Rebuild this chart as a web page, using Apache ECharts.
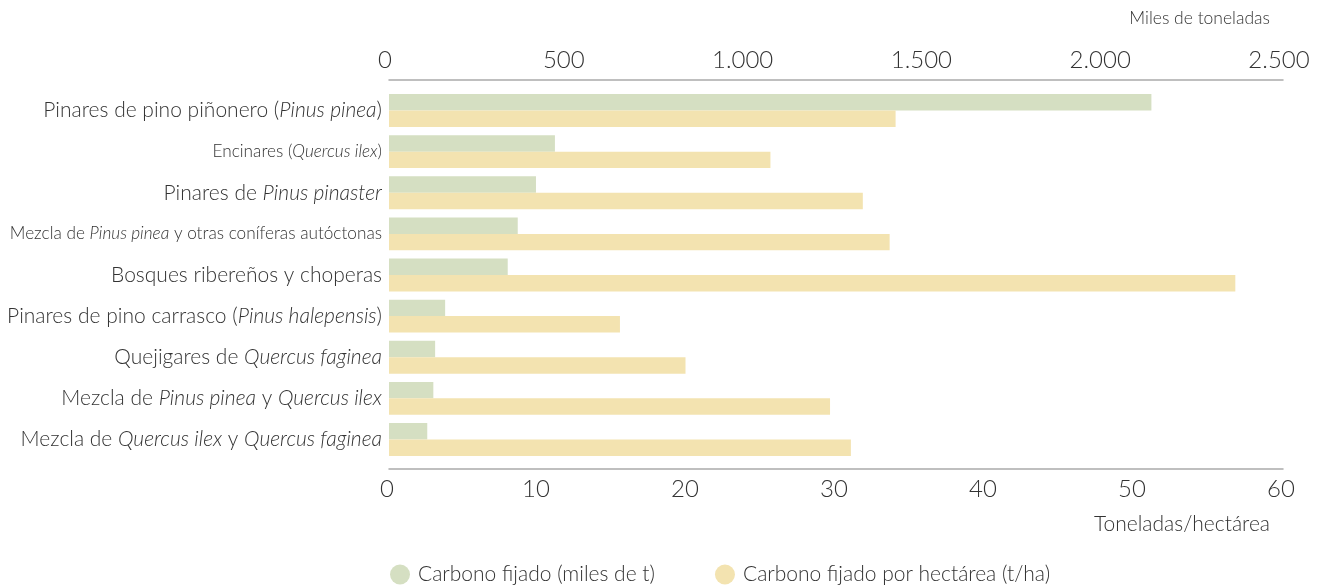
<!DOCTYPE html>
<html>
<head>
<meta charset="utf-8">
<script src="https://cdn.jsdelivr.net/npm/echarts@6/dist/echarts.min.js"></script>
<style>
html,body{margin:0;padding:0;background:#fff;}
#c{width:1320px;height:585px;}
</style>
</head>
<body>
<div id="c"></div>
<script>
const categories = [
  'Pinares de pino piñonero (Pinus pinea)',
  'Encinares (Quercus ilex)',
  'Pinares de Pinus pinaster',
  'Mezcla de Pinus pinea y otras coníferas autóctonas',
  'Bosques ribereños y choperas',
  'Pinares de pino carrasco (Pinus halepensis)',
  'Quejigares de Quercus faginea',
  'Mezcla de Pinus pinea y Quercus ilex',
  'Mezcla de Quercus ilex y Quercus faginea'
];
const categoryLabels = [
  'Pinares de pino piñonero ({i|Pinus pinea})',
  '{c|Encinares (}{ci|Quercus ilex}{c|)}',
  'Pinares de {i|Pinus pinaster}',
  '{c|Mezcla de }{ci|Pinus pinea}{c| y otras coníferas autóctonas}',
  'Bosques ribereños y choperas',
  'Pinares de pino carrasco ({i|Pinus halepensis})',
  'Quejigares de {i|Quercus faginea}',
  'Mezcla de {i|Pinus pinea} y {i|Quercus ilex}',
  'Mezcla de {i|Quercus ilex} y {i|Quercus faginea}'
];
const carbonoMiles = [2132, 464, 411, 360, 332, 157, 129, 124, 107];
const carbonoHa = [34.0, 25.6, 31.8, 33.6, 56.8, 15.5, 19.9, 29.6, 31.0];
const topTicks = [0, 500, 1000, 1500, 2000, 2500];
const bottomTicks = [0, 10, 20, 30, 40, 50, 60];
const seriesNames = ['Carbono fijado (miles de t)', 'Carbono fijado por hectárea (t/ha)'];

const FONT = 'Lato, "Noto Sans", sans-serif';
const TXT = '#333';
const chart = echarts.init(document.getElementById('c'), null, {renderer: 'canvas'});
const fmtThousands = v => String(v).replace(/\B(?=(\d{3})+(?!\d))/g, '.');

chart.setOption({
  animation: false,
  backgroundColor: '#fff',
  grid: {left: 389, right: 37, top: 90, bottom: 125, containLabel: false},
  xAxis: [
    {
      type: 'value', position: 'top', offset: 10,
      min: topTicks[0], max: topTicks[topTicks.length - 1], interval: 500,
      axisLine: {show: true, lineStyle: {color: '#aaa', width: 1.5}},
      axisTick: {show: false}, splitLine: {show: false},
      axisLabel: {fontFamily: FONT, fontSize: 24, fontWeight: 300, color: TXT, margin: 8, formatter: fmtThousands, padding: [0, 8, 0, 0]}
    },
    {
      type: 'value', position: 'bottom', offset: 9,
      min: bottomTicks[0], max: bottomTicks[bottomTicks.length - 1], interval: 10,
      axisLine: {show: true, lineStyle: {color: '#aaa', width: 1.5}},
      axisTick: {show: false}, splitLine: {show: false},
      axisLabel: {fontFamily: FONT, fontSize: 24, fontWeight: 300, color: TXT, margin: 8, padding: [0, 4, 0, 0]}
    }
  ],
  yAxis: {
    type: 'category', inverse: true, data: categories,
    axisLine: {show: false}, axisTick: {show: false},
    axisLabel: {
      margin: 7, fontFamily: FONT, fontSize: 21, fontWeight: 300, color: TXT,
      formatter: (v, i) => categoryLabels[i],
      rich: {
        i: {fontFamily: FONT, fontSize: 21, fontStyle: 'italic', fontWeight: 300, color: TXT},
        c: {fontFamily: FONT, fontSize: 17.2, fontWeight: 300, color: TXT},
        ci: {fontFamily: FONT, fontSize: 17.2, fontStyle: 'italic', fontWeight: 300, color: TXT}
      }
    }
  },
  legend: {
    left: 385, top: 559, icon: 'circle', itemWidth: 20, itemHeight: 20, itemGap: 60,
    textStyle: {fontFamily: FONT, fontSize: 21, fontWeight: 300, color: TXT, padding: [0, 0, 0, 3]},
    data: seriesNames
  },
  series: [
    {
      name: seriesNames[0], type: 'bar', xAxisIndex: 0, data: carbonoMiles,
      barGap: '0%', barCategoryGap: '20%',
      itemStyle: {color: '#d5dfc2'}
    },
    {
      name: seriesNames[1], type: 'bar', xAxisIndex: 1, data: carbonoHa,
      barGap: '0%', barCategoryGap: '20%',
      itemStyle: {color: '#f3e3b0'}
    }
  ],
  graphic: [
    {type: 'text', right: 50, top: 9, style: {text: 'Miles de toneladas', font: '300 17.5px ' + FONT, fill: TXT}},
    {type: 'text', right: 50, top: 514, style: {text: 'Toneladas/hectárea', font: '300 21px ' + FONT, fill: TXT}}
  ]
});
</script>
</body>
</html>
